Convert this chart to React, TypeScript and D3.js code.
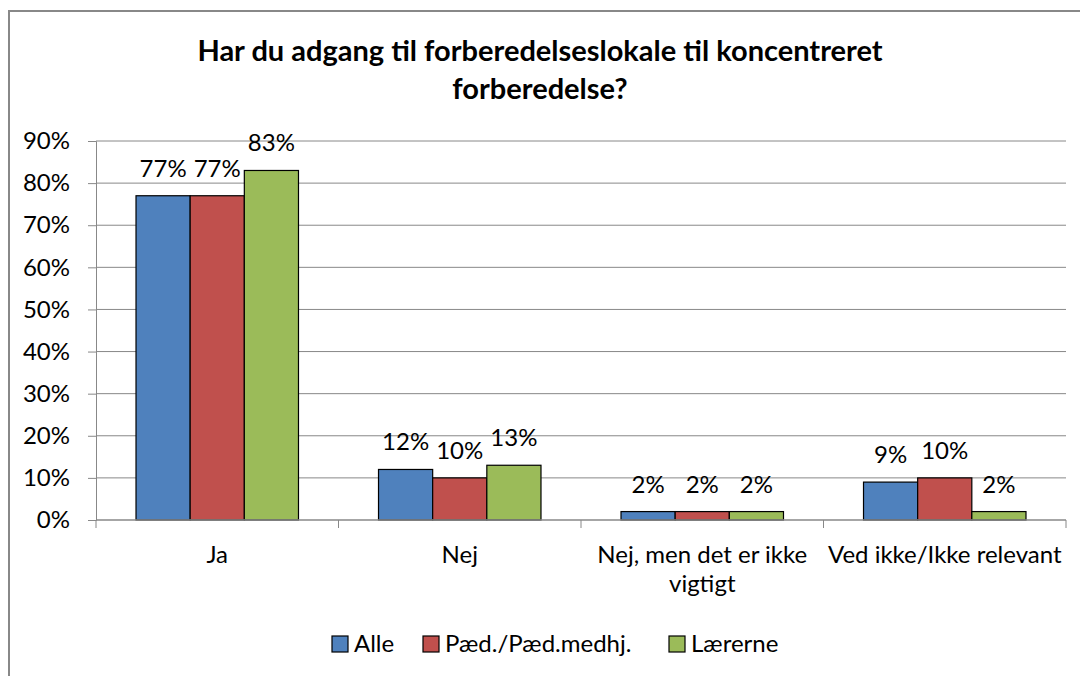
import React, { useRef, useEffect } from "react";
import * as d3 from "d3";

const categories = ["Ja", "Nej", "Nej, men det er ikke vigtigt", "Ved ikke/Ikke relevant"];
const categoryLines = [["Ja"], ["Nej"], ["Nej, men det er ikke", "vigtigt"], ["Ved ikke/Ikke relevant"]];
const seriesNames = ["Alle", "Pæd./Pæd.medhj.", "Lærerne"];
const seriesColors = ["#4F81BD", "#C0504D", "#9BBB59"];
const alle = [77, 12, 2, 9];
const paed = [77, 10, 2, 10];
const laererne = [83, 13, 2, 2];
const yTicks = [0, 10, 20, 30, 40, 50, 60, 70, 80, 90];
const titleLines = ["Har du adgang til forberedelseslokale til koncentreret", "forberedelse?"];

const FONT = "Lato, 'Open Sans', sans-serif";
const FS = "24px";

const App = () => {
  const svgRef = useRef<SVGSVGElement>(null);
  const width = 1080;
  const height = 676;

  useEffect(() => {
    const svg = d3.select(svgRef.current);
    svg.selectAll("*").remove();

    const margin = { top: 141, left: 96, right: 14, bottom: 156 };
    const innerWidth = width - margin.left - margin.right;
    const innerHeight = height - margin.top - margin.bottom;
    const series = [alle, paed, laererne];

    // chart frame
    svg.append("rect")
      .attr("x", 9).attr("y", 11)
      .attr("width", width + 20).attr("height", height + 20)
      .attr("fill", "#fff").attr("stroke", "#888").attr("stroke-width", 2);

    svg.append("text")
      .attr("x", 540).attr("text-anchor", "middle")
      .style("font-family", FONT).style("font-weight", "bold").style("font-size", "29px")
      .selectAll("tspan").data(titleLines).join("tspan")
      .attr("x", 540).attr("y", (_, i) => 61 + i * 38)
      .text(d => d);

    const x0 = d3.scaleBand().domain(categories).range([0, innerWidth]).paddingInner(0.33).paddingOuter(0.165);
    const x1 = d3.scaleBand().domain(seriesNames).range([0, x0.bandwidth()]);
    const y = d3.scaleLinear().domain([0, 90]).range([innerHeight, 0]);

    const chart = svg.append("g").attr("transform", `translate(${margin.left},${margin.top})`);

    // gridlines
    chart.append("g").selectAll("line").data(yTicks.slice(1)).join("line")
      .attr("x1", 0).attr("x2", innerWidth)
      .attr("y1", d => y(d)).attr("y2", d => y(d))
      .attr("stroke", "#888").attr("stroke-width", 1);

    // y axis
    const yAxis = chart.append("g")
      .call(d3.axisLeft(y).tickValues(yTicks).tickSize(8).tickPadding(18).tickFormat(d => `${d}%`));
    yAxis.select(".domain").attr("stroke", "#888");
    yAxis.selectAll(".tick line").attr("stroke", "#888");
    yAxis.selectAll("text").style("font-family", FONT).style("font-size", FS).attr("fill", "#000");

    // bars
    const groups = chart.selectAll("g.cat").data(categories).join("g")
      .attr("class", "cat")
      .attr("transform", d => `translate(${x0(d)},0)`);

    seriesNames.forEach((s, si) => {
      groups.append("rect")
        .attr("x", x1(s)!)
        .attr("y", (_, ci) => y(series[si][ci]))
        .attr("width", x1.bandwidth())
        .attr("height", (_, ci) => innerHeight - y(series[si][ci]))
        .attr("fill", seriesColors[si])
        .attr("stroke", "#000").attr("stroke-width", 1.2);
      groups.append("text")
        .attr("x", x1(s)! + x1.bandwidth() / 2)
        .attr("y", (_, ci) => y(series[si][ci]) - 19)
        .attr("text-anchor", "middle")
        .style("font-family", FONT).style("font-size", FS)
        .text((_, ci) => `${series[si][ci]}%`);
    });

    // x axis
    chart.append("line")
      .attr("x1", 0).attr("x2", innerWidth).attr("y1", innerHeight).attr("y2", innerHeight)
      .attr("stroke", "#888").attr("stroke-width", 1.5);
    chart.append("g").selectAll("line").data(d3.range(categories.length + 1)).join("line")
      .attr("x1", i => i * innerWidth / categories.length).attr("x2", i => i * innerWidth / categories.length)
      .attr("y1", innerHeight).attr("y2", innerHeight + 8)
      .attr("stroke", "#888");
    chart.append("g").selectAll("text").data(categories).join("text")
      .attr("text-anchor", "middle")
      .style("font-family", FONT).style("font-size", FS)
      .each(function (d, i) {
        d3.select(this).selectAll("tspan").data(categoryLines[i]).join("tspan")
          .attr("x", x0(d)! + x0.bandwidth() / 2)
          .attr("y", (_, li) => innerHeight + 43 + li * 29)
          .text(t => t);
      });

    // legend
    const legendX = [332, 423, 669];
    const legend = svg.append("g");
    seriesNames.forEach((s, i) => {
      legend.append("rect")
        .attr("x", legendX[i]).attr("y", 636).attr("width", 16).attr("height", 16)
        .attr("fill", seriesColors[i]).attr("stroke", "#000").attr("stroke-width", 1.2);
      legend.append("text")
        .attr("x", legendX[i] + 22).attr("y", 652)
        .style("font-family", FONT).style("font-size", FS)
        .text(s);
    });
  }, []);

  return <svg ref={svgRef} width={width} height={height} style={{ display: "block", position: "absolute", left: 0, top: 0 }}></svg>;
};

export default App;
